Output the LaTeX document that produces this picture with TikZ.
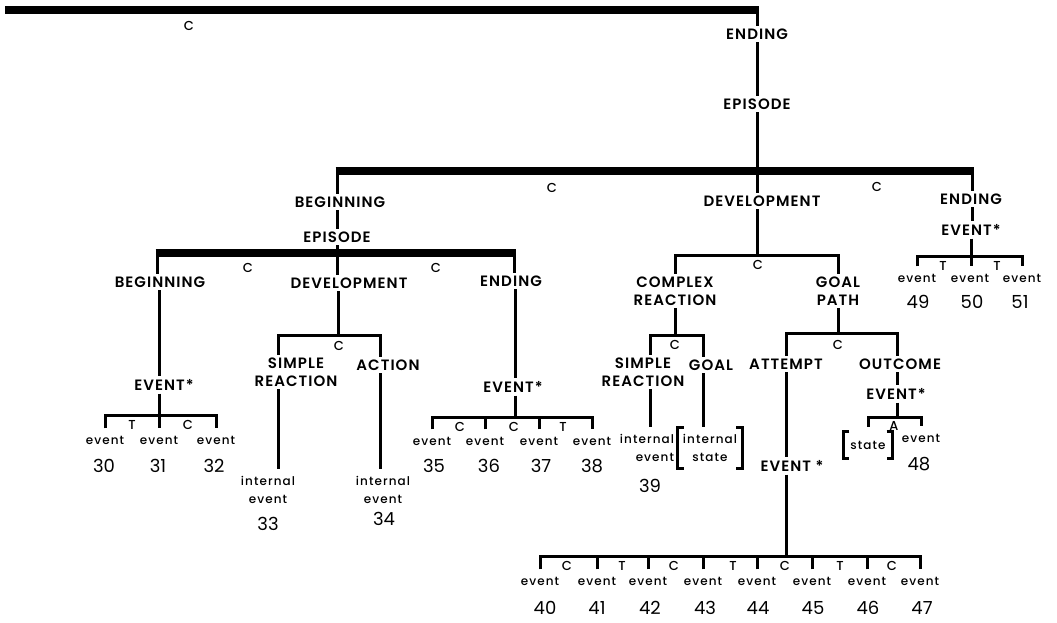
\documentclass[tikz,border=0pt]{standalone}
\usepackage{fontspec}
\setmainfont{Poppins}
\newfontfamily\capfont{Poppins SemiBold}[LetterSpace=7]
\newfontfamily\relfont{Poppins Medium}
\newfontfamily\evfont{Poppins Medium}[LetterSpace=9]
\newfontfamily\numfont{Poppins}
\begin{document}
\begin{tikzpicture}[
    x=1pt, y=-1pt,
    bar/.style={line width=7.5pt},
    ln/.style={line width=3pt},
    lab/.style={font=\capfont\fontsize{15}{18}\selectfont, inner sep=0pt, outer sep=3pt, align=center},
    rel/.style={font=\relfont\fontsize{13}{13}\selectfont, inner sep=0pt},
    ev/.style={font=\evfont\fontsize{12}{18}\selectfont, inner sep=0pt, outer ysep=7.5pt, align=center},
    num/.style={font=\numfont\fontsize{18}{18}\selectfont, inner sep=0pt}
]
    \useasboundingbox (0,0) rectangle (1057,622);

    % top level
    \coordinate (tl) at (5,10);
    \coordinate (tr) at (757,10);
    \node[rel] (c0) at (189,26) {C};
    \node[lab] (endA) at (757,34) {ENDING};
    \node[lab] (epA) at (757,104) {EPISODE};
    \draw[bar] (tl) -- ([xshift=1.5pt]tr);
    \draw[ln] (tr) -- (endA.north);
    \draw[ln] (endA.south) -- (epA.north);

    % second bar
    \coordinate (b2l) at (337,171);
    \coordinate (b2m) at (757,171);
    \coordinate (b2r) at (972,171);
    \draw[ln] (epA.south) -- (b2m);
    \draw[bar] ([xshift=-1.5pt]b2l) -- ([xshift=1.5pt]b2r);
    \node[lab] (begB) at (340,202) {BEGINNING};
    \node[lab] (epB) at (337,237) {EPISODE};
    \node[rel] (c1) at (552,188) {C};
    \node[lab] (devB) at (762,201) {DEVELOPMENT};
    \node[rel] (c2) at (877,187) {C};
    \node[lab] (endB) at (971,199) {ENDING};
    \node[lab] (evR) at (971,230) {EVENT*};
    \draw[ln] (b2l) -- (b2l |- begB.north);
    \draw[ln] (begB.south -| b2l) -- (epB.north -| b2l);
    \draw[ln] (b2m) -- (b2m |- devB.north);
    \draw[ln] (b2r) -- (b2r |- endB.north);
    \draw[ln] (endB.south -| b2r) -- (evR.north -| b2r);

    % events 49-51
    \coordinate (j49) at (971,256);
    \foreach \x [count=\i from 49] in {917,970,1022}
        \node[ev] (e\i) at (\x,278) {event};
    \foreach \x/\n in {918/49,972/50,1020/51}
        \node[num] (n\n) at (\x,302) {\n};
    \node[rel] (r49a) at (943,266) {T};
    \node[rel] (r49b) at (997,266) {T};
    \draw[ln] (evR.south -| j49) -- (j49);
    \draw[ln] (e49.north) |- (j49) -| (e51.north);
    \draw[ln] (j49) -- (e50.north -| j49);

    % third bar
    \coordinate (b3l) at (157,253);
    \coordinate (b3m) at (337,253);
    \coordinate (b3r) at (514,253);
    \draw[ln] (epB.south -| b3m) -- (b3m);
    \draw[bar] ([xshift=-1.5pt]b3l) -- ([xshift=1.5pt]b3r);
    \node[lab] (begC) at (160,282) {BEGINNING};
    \node[rel] (c3) at (248,268) {C};
    \node[lab] (devC) at (349,283) {DEVELOPMENT};
    \node[rel] (c4) at (436,268) {C};
    \node[lab] (endC) at (511,281) {ENDING};
    \draw[ln] (b3l) -- (b3l |- begC.north);
    \draw[ln] (b3m) -- (b3m |- devC.north);
    \draw[ln] (b3r) -- (b3r |- endC.north);

    % events 30-32
    \coordinate (j30) at (159,415);
    \node[lab] (evL) at (164,385) {EVENT*};
    \draw[ln] (begC.south -| j30) -- (evL.north -| j30);
    \draw[ln] (evL.south -| j30) -- (j30);
    \foreach \x [count=\i from 30] in {105,159,216}
        \node[ev] (e\i) at (\x,440) {event};
    \foreach \x/\n in {104/30,158/31,214/32}
        \node[num] (n\n) at (\x,466) {\n};
    \node[rel] (r30a) at (132,425) {T};
    \node[rel] (r30b) at (188,425) {C};
    \draw[ln] (e30.north) |- (j30) -| (e32.north);
    \draw[ln] (j30) -- (e31.north);

    % simple reaction and action
    \coordinate (j33) at (338,335);
    \coordinate (k33a) at (278,335);
    \coordinate (k33b) at (380,335);
    \node[lab] (srA) at (296,372) {SIMPLE\\REACTION};
    \node[lab] (acA) at (388,365) {ACTION};
    \node[rel] (c5) at (339,346) {C};
    \draw[ln] (devC.south -| j33) -- (j33);
    \draw[ln] (k33a |- srA.north) -- (k33a) -- (k33b) -- (k33b |- acA.north);
    \node[ev] (i33) at (268,490) {internal\\event};
    \node[ev] (i34) at (383,490) {internal\\event};
    \node[num] (n33) at (268,524) {33};
    \node[num] (n34) at (384,519) {34};
    \draw[ln] (k33a |- srA.south) -- (k33a |- i33.north);
    \draw[ln] (k33b |- acA.south) -- (k33b |- i34.north);

    % events 35-38
    \coordinate (j35) at (515,417);
    \node[lab] (evM) at (513,387) {EVENT*};
    \draw[ln] (endC.south -| j35) -- (evM.north -| j35);
    \draw[ln] (evM.south -| j35) -- (j35);
    \foreach \x [count=\i from 35] in {432,485,539,592}
        \node[ev] (e\i) at (\x,441) {event};
    \foreach \x/\n in {434/35,489/36,541/37,592/38}
        \node[num] (n\n) at (\x,466) {\n};
    \foreach \x/\l [count=\i] in {460/C,514/C,563/T}
        \node[rel] (r35\i) at (\x,427) {\l};
    \draw[ln] (e35.north) |- (j35) -| (e38.north);
    \foreach \i in {36,37}
        \draw[ln] (e\i.north) -- (e\i.north |- j35);

    % complex reaction and goal path
    \coordinate (j39) at (757,255);
    \node[lab] (crA) at (675,291) {COMPLEX\\REACTION};
    \node[lab] (gpA) at (838,291) {GOAL\\PATH};
    \node[rel] (c6) at (758,265) {C};
    \draw[ln] (devB.south -| j39) -- (j39);
    \draw[ln] (crA.north) |- (j39) -| (gpA.north);

    % simple reaction and goal
    \coordinate (k39) at (675,335);
    \coordinate (k39a) at (650,335);
    \coordinate (k39b) at (703,335);
    \node[lab] (srB) at (643,372) {SIMPLE\\REACTION};
    \node[lab] (goA) at (711,365) {GOAL};
    \node[rel] (c7) at (675,345) {C};
    \draw[ln] (crA.south) -- (k39);
    \draw[ln] (k39a |- srB.north) -- (k39a) -- (k39b) -- (k39b |- goA.north);
    \node[ev, align=right] (i39) at (647,448) {internal\\event};
    \node[num] (n39) at (650,486) {39};
    \node[ev, inner xsep=5pt, inner ysep=7pt, outer sep=0pt] (st39) at (710,448) {internal\\state};
    \draw[ln] ([xshift=6pt]st39.north west) -- (st39.north west) -- (st39.south west) -- ++(6,0);
    \draw[ln] ([xshift=-6pt]st39.north east) -- (st39.north east) -- (st39.south east) -- ++(-6,0);
    \draw[ln] (k39a |- srB.south) -- (k39a |- i39.north);
    \draw[ln] (k39b |- goA.south) -- (k39b |- st39.north);

    % attempt and outcome
    \coordinate (k40) at (838,333);
    \coordinate (k40a) at (786,333);
    \coordinate (k40b) at (897,333);
    \node[lab] (atA) at (786,364) {ATTEMPT};
    \node[lab] (ocA) at (900,364) {OUTCOME};
    \node[rel] (c8) at (838,345) {C};
    \draw[ln] (gpA.south) -- (k40);
    \draw[ln] (k40a |- atA.north) -- (k40a) -- (k40b) -- (k40b |- ocA.north);

    % outcome event 48
    \coordinate (j48) at (897,417);
    \node[lab] (evO) at (896,394) {EVENT*};
    \node[ev, inner xsep=7pt, inner ysep=9pt, outer sep=0pt] (st48) at (868,445) {state};
    \node[ev] (e48) at (921,438) {event};
    \node[num] (n48) at (919,464) {48};
    \node[rel] (r48) at (894,426) {A};
    \draw[ln] (k40b |- ocA.south) -- (k40b |- evO.north);
    \draw[ln] (evO.south -| j48) -- (j48);
    \draw[ln] ([yshift=5pt]st48.north) |- (j48) -| (e48.north);
    \draw[ln] ([xshift=6pt]st48.north west) -- (st48.north west) -- (st48.south west) -- ++(6,0);
    \draw[ln] ([xshift=-6pt]st48.north east) -- (st48.north east) -- (st48.south east) -- ++(-6,0);

    % events 40-47
    \coordinate (j40) at (786,556);
    \node[lab] (evA) at (792,466) {EVENT *};
    \draw[ln] (k40a |- atA.south) -- (k40a |- evA.north);
    \draw[ln] (evA.south -| j40) -- (j40);
    \foreach \x [count=\i from 40] in {540,597,648,703,757,812,867,920}
        \node[ev] (e\i) at (\x,581) {event};
    \foreach \x/\n in {545/40,597/41,650/42,705/43,758/44,813/45,868/46,922/47}
        \node[num] (n\n) at (\x,608) {\n};
    \foreach \x/\l [count=\i] in {567/C,622/T,674/C,733/T,785/C,840/T,892/C}
        \node[rel] (r40\i) at (\x,566) {\l};
    \draw[ln] (e40.north) |- (j40) -| (e47.north);
    \foreach \i in {41,...,46}
        \draw[ln] (e\i.north) -- (e\i.north |- j40);
\end{tikzpicture}
\end{document}
